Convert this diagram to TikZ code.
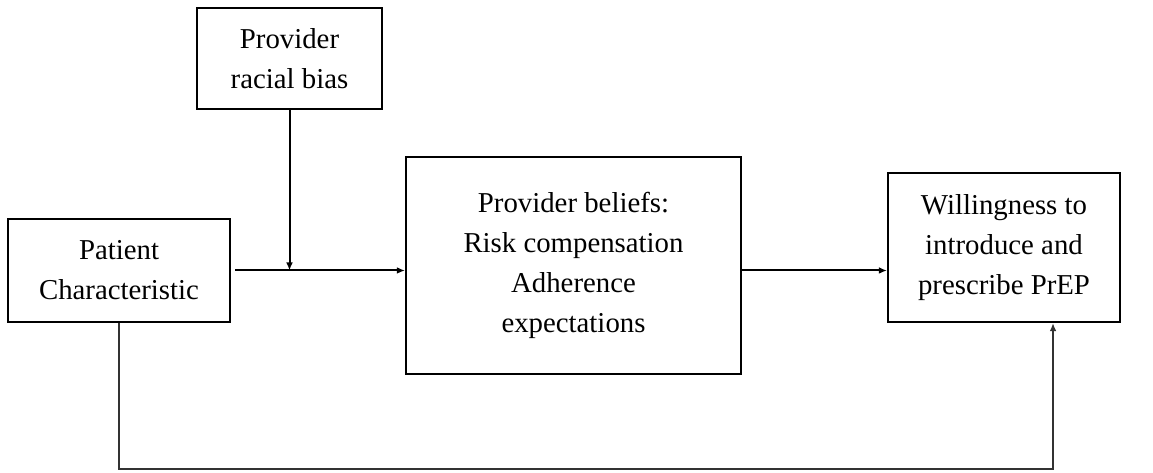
\documentclass[tikz,border=0pt]{standalone}
\usepackage{fontspec}
\setmainfont{Liberation Serif}
\usetikzlibrary{arrows.meta}
\begin{document}
\begin{tikzpicture}[x=0.75pt,y=-0.75pt,
  box/.style={draw,line width=1.6pt,inner sep=0pt,align=center,
    font=\fontsize{21.6}{30}\selectfont},
  conn/.style={line width=1.5pt,-{Latex[length=6pt,width=5pt]}}]
\useasboundingbox (0,0) rectangle (1153,473);
\node[box,minimum width=185*0.75pt,minimum height=101*0.75pt] (bias) at (289.5,58.5) {Provider\\racial bias};
\node[box,minimum width=222*0.75pt,minimum height=103*0.75pt] (pat) at (119,270.5) {Patient\\Characteristic};
\node[box,minimum width=335*0.75pt,minimum height=217*0.75pt] (bel) at (573.5,265.5) {Provider beliefs:\\Risk compensation\\Adherence\\expectations};
\node[box,minimum width=232*0.75pt,minimum height=149*0.75pt] (will) at (1004,247.5) {Willingness to\\introduce and\\prescribe PrEP};
\coordinate (corner) at (1053,469);
\draw[conn,shorten <=3pt] (pat.east) -- (pat.east -| bel.west);
\draw[conn] (bias.south) -- (bias.south |- pat.east);
\draw[conn] (bel.east |- pat.east) -- (will.west |- pat.east);
\draw[conn,line width=1.9pt,draw=black!80] (pat.south) |- (corner) -- (corner |- will.south);
\end{tikzpicture}
\end{document}
